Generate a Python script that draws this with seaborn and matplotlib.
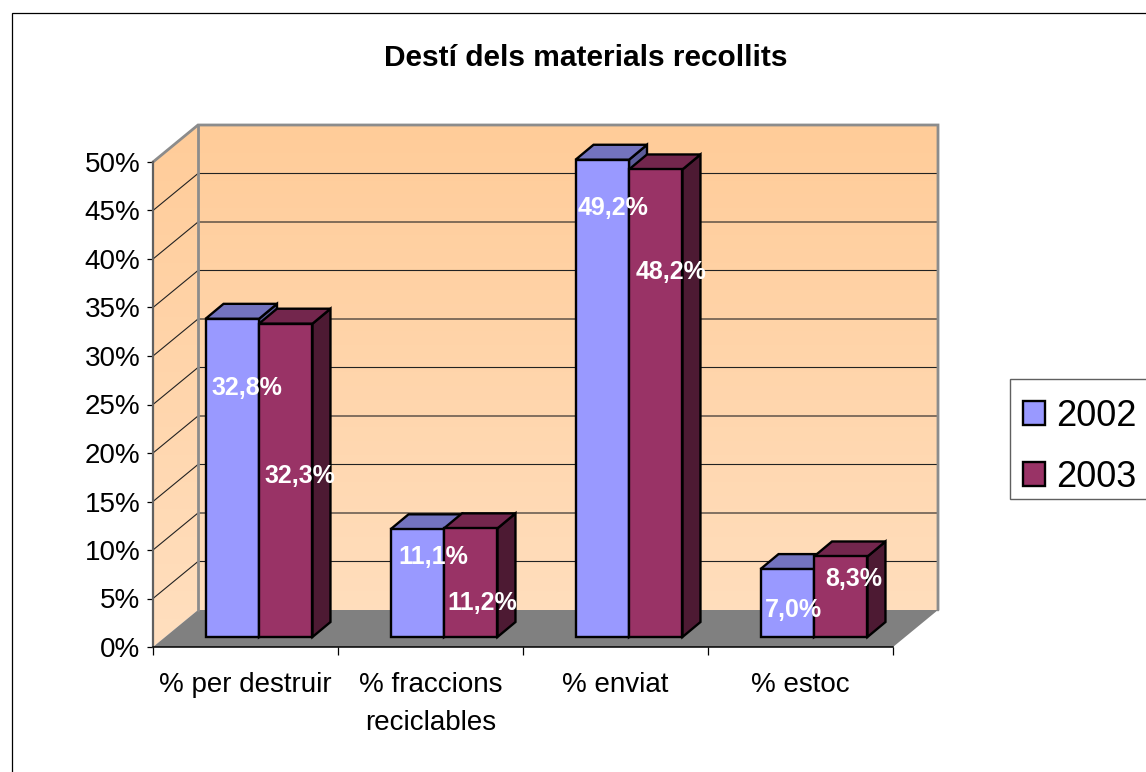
import numpy as np
import pandas as pd
import matplotlib
matplotlib.use("Agg")
import matplotlib.pyplot as plt
from matplotlib.patches import Polygon, Rectangle, PathPatch
from matplotlib.path import Path
from matplotlib.transforms import ScaledTranslation, IdentityTransform
from matplotlib.colors import LinearSegmentedColormap
import seaborn as sns

# ---- data ----
categories = ["% per destruir", "% fraccions\nreciclables", "% enviat", "% estoc"]
years = ["2002", "2003"]
values_2002 = [32.8, 11.1, 49.2, 7.0]
values_2003 = [32.3, 11.2, 48.2, 8.3]
title = "Destí dels materials recollits"

# ---- style ----
W, H = 1146, 772
front_colors = ["#9999FF", "#993366"]
top_colors = ["#7373BF", "#73264D"]
side_colors = ["#5C5C99", "#4D1A33"]
wall_top, wall_bottom = "#FFCC99", "#FFDFBF"
floor_color = "#808080"
wall_depth = (45, 37)     # px, right and up
bar_shift = (13.5, 10)    # px, bars stand inside the floor
bar_depth = (18, 15)      # px
# label offsets from each bar's front-top centre, in px
label_dx = [[14.5, 16, 11, 6], [14, 12, 15, 13]]
label_dy = [[-69, -28, -48, -41], [-152, -75, -103, -23]]

sns.set_style("white")
plt.rcParams["font.family"] = ["Liberation Sans", "DejaVu Sans"]
plt.rcParams["text.color"] = "black"

df = pd.DataFrame({
    "categoria": categories * 2,
    "valor": values_2002 + values_2003,
    "any": [years[0]] * 4 + [years[1]] * 4,
})

fig = plt.figure(figsize=(W / 100, H / 100), dpi=100)
fig.patches.append(Rectangle((12 / W, -0.2), 1.2, 1.2 - 13 / H, transform=fig.transFigure,
                             facecolor="white", edgecolor="black", linewidth=0.9, zorder=-5))
# legend box, runs off the right edge like the reference
fig.patches.append(Rectangle((1010 / W, 1 - 499 / H), 0.2, 120 / H, transform=fig.transFigure,
                             facecolor="white", edgecolor="#606060", linewidth=1.0, zorder=-4))
ax = fig.add_axes([153 / W, (H - 647) / H, 740 / W, 485 / H])
ax.patch.set_visible(False)

sns.barplot(data=df, x="categoria", y="valor", hue="any", ax=ax, palette=front_colors,
            width=0.578, gap=0, saturation=1, edgecolor="black", linewidth=1.7,
            order=categories, hue_order=years, zorder=5)
ax.set_xlim(-0.5, 3.5)
ax.set_ylim(0, 50)
ax.set_xlabel("")
ax.set_ylabel("")


def px(x, y, dx=0, dy=0):
    X, Y = ax.transData.transform((x, y))
    return (X + dx, Y + dy)


def poly(pts, **kw):
    p = Polygon(pts, closed=True, transform=IdentityTransform(), clip_on=False, **kw)
    ax.add_patch(p)
    return p


x0, x1 = ax.get_xlim()
y0, y1 = ax.get_ylim()
dx, dy = wall_depth

# walls: one vertical gradient clipped to the left and back wall
a, b = px(x0, y0), px(x1, y1, dx, dy)
cmap = LinearSegmentedColormap.from_list("wall", [wall_top, wall_bottom])
im = ax.imshow(np.linspace(0, 1, 256).reshape(-1, 1), cmap=cmap, aspect="auto",
               extent=(a[0], b[0], a[1], b[1]), origin="upper", zorder=0.5)
im.set_transform(IdentityTransform())
wall_verts = [px(x0, y0), px(x0, y1), px(x0, y1, dx, dy), px(x1, y1, dx, dy),
              px(x1, y0, dx, dy), px(x0, y0, dx, dy), px(x0, y0)]
clip = PathPatch(Path(wall_verts), transform=IdentityTransform())
im.set_clip_path(clip)
im.set_clip_box(fig.bbox)
ax.set_xlim(x0, x1)
ax.set_ylim(y0, y1)

# floor
poly([px(x0, y0), px(x1, y0), px(x1, y0, dx, dy), px(x0, y0, dx, dy)],
     facecolor=floor_color, edgecolor="none", zorder=1.2)

# gridlines on the side and the back wall
for tick in np.arange(5, 51, 5):
    A, B, C = px(x0, tick), px(x0, tick, dx, dy), px(x1, tick, dx, dy)
    ax.plot([A[0], B[0], C[0]], [A[1], B[1], C[1]], color="#222222", lw=0.8,
            transform=IdentityTransform(), clip_on=False, zorder=1)

# gray wall outlines
C1, C2, C3, C4 = px(x0, y1), px(x0, y1, dx, dy), px(x1, y1, dx, dy), px(x1, y0, dx, dy)
ax.plot([C1[0], C2[0], C3[0], C4[0]], [C1[1], C2[1], C3[1], C4[1]], color="#8C8C8C", lw=2,
        transform=IdentityTransform(), clip_on=False, zorder=1.5, solid_joinstyle="miter")
V0 = px(x0, y0, dx, dy)
ax.plot([C2[0], V0[0]], [C2[1], V0[1]], color="#8C8C8C", lw=2,
        transform=IdentityTransform(), clip_on=False, zorder=1.5)

# bars: shift the fronts onto the floor, add top and side faces
shift = ScaledTranslation(bar_shift[0] / 100, bar_shift[1] / 100, fig.dpi_scale_trans)
sx, sy = bar_shift
bx, by = bar_depth
for j, cont in enumerate(ax.containers):
    z = 5 + j
    for i, bar in enumerate(cont.patches):
        bar.set_transform(ax.transData + shift)
        bar.set_clip_on(False)
        bar.set_zorder(z + 0.2)
        bar.set_joinstyle("miter")
        l, r = bar.get_x(), bar.get_x() + bar.get_width()
        v = bar.get_height()
        edge = dict(edgecolor="black", linewidth=1.7, joinstyle="miter")
        poly([px(r, 0, sx, sy), px(r, v, sx, sy), px(r, v, sx + bx, sy + by), px(r, 0, sx + bx, sy + by)],
             facecolor=side_colors[j], zorder=z, **edge)
        poly([px(l, v, sx, sy), px(r, v, sx, sy), px(r, v, sx + bx, sy + by), px(l, v, sx + bx, sy + by)],
             facecolor=top_colors[j], zorder=z + 0.1, **edge)
        ax.annotate(f"{v:.1f}".replace(".", ",") + "%", xy=((l + r) / 2, v),
                    xycoords=ax.transData + shift,
                    xytext=(label_dx[j][i] * 0.72, label_dy[j][i] * 0.72),
                    textcoords="offset points", ha="center", va="center",
                    color="white", fontweight="bold", fontsize=18,
                    annotation_clip=False, zorder=20)

# axes
for s in ("top", "right"):
    ax.spines[s].set_visible(False)
ax.spines["left"].set_color("#606060")
ax.spines["left"].set_linewidth(1.6)
ax.spines["bottom"].set_color("black")
ax.spines["bottom"].set_linewidth(1.1)
ax.spines["left"].set_zorder(2)
ax.spines["bottom"].set_zorder(2)

ax.set_yticks(np.arange(0, 51, 5))
ax.set_yticklabels([f"{t}%" for t in range(0, 51, 5)], fontsize=20)
ax.tick_params(axis="y", left=True, length=4, width=0.9, color="black", pad=5, labelcolor="black")
ax.set_xticks(range(len(categories)))
ax.set_xticklabels(categories, fontsize=20, linespacing=1.6)
ax.set_xticks(np.arange(-0.5, 4), minor=True)
ax.tick_params(axis="x", which="major", bottom=False, length=0, pad=17.8, labelcolor="black")
ax.tick_params(axis="x", which="minor", bottom=True, length=6, width=0.9, color="black")

# legend
handles, labels = ax.get_legend_handles_labels()
leg = ax.legend(handles, labels, loc="upper left",
                bbox_to_anchor=(1010 / W, 1 - 386 / H), bbox_transform=fig.transFigure,
                fontsize=26, frameon=False,
                borderaxespad=0, borderpad=0.35, labelspacing=0.72,
                handlelength=0.62, handleheight=0.62, handletextpad=0.3)
leg.set_zorder(30)

fig.text(586 / W, 1 - 58 / H, title, ha="center", va="center", fontsize=21.5,
         fontweight="bold", color="black")

fig.savefig("out.png", dpi=100)
